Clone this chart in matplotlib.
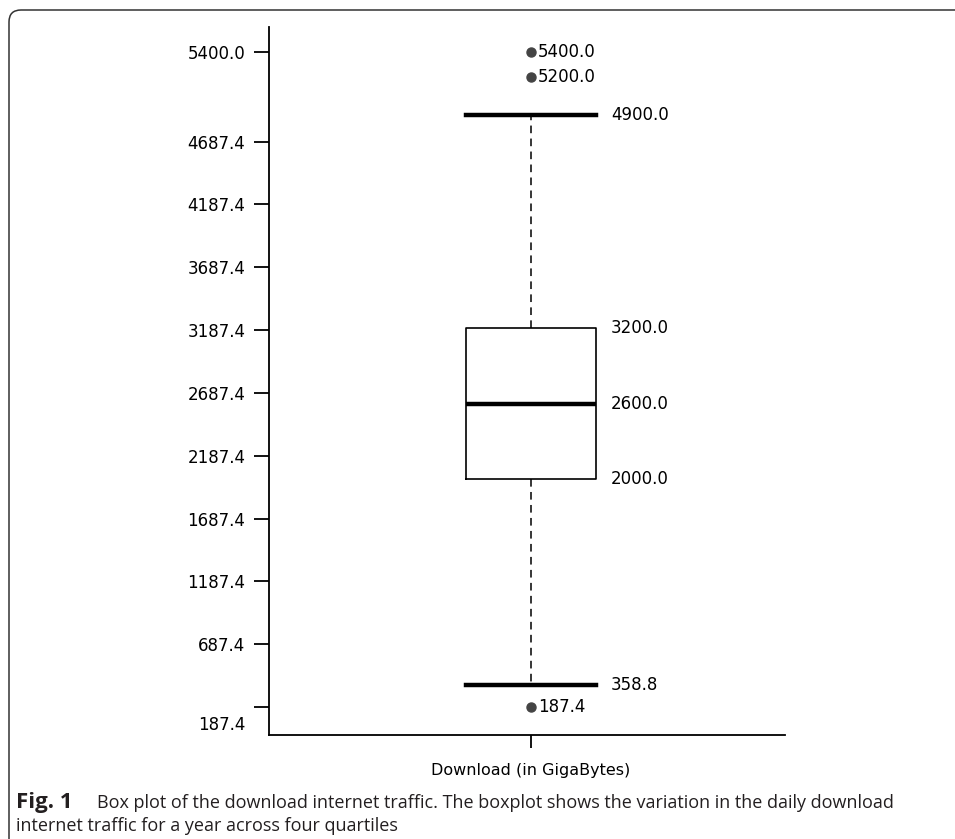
import matplotlib
matplotlib.use("Agg")
import matplotlib.pyplot as plt
from matplotlib.patches import FancyBboxPatch
from matplotlib.transforms import ScaledTranslation

# ---- data ----
category = ["Download (in GigaBytes)"]
whisker_low = 358.8
q1 = 2000.0
median = 2600.0
q3 = 3200.0
whisker_high = 4900.0
outliers = [5400.0, 5200.0, 187.4]
ytick_values = [187.4, 687.4, 1187.4, 1687.4, 2187.4, 2687.4, 3187.4,
                3687.4, 4187.4, 4687.4, 5400.0]
caption_bold = "Fig. 1"
caption_line1 = "Box plot of the download internet traffic. The boxplot shows the variation in the daily download"
caption_line2 = "internet traffic for a year across four quartiles"

W, H = 955, 839
fig = plt.figure(figsize=(W / 100, H / 100), dpi=100)
ax = fig.add_axes([269 / W, 104 / H, (785 - 269) / W, (735 - 27) / H])

stats = [dict(med=median, q1=q1, q3=q3, whislo=whisker_low, whishi=whisker_high,
              fliers=outliers, label=category[0])]
bw = 0.252
ax.bxp(stats, positions=[0], widths=bw, capwidths=bw, showfliers=True,
       boxprops=dict(color="black", linewidth=1.2),
       medianprops=dict(color="black", linewidth=3.2),
       capprops=dict(color="black", linewidth=3.2),
       whiskerprops=dict(color="black", linewidth=1.1, linestyle=(0, (5, 3.5))),
       flierprops=dict(marker="o", markersize=6.5, markerfacecolor="#444444",
                       markeredgecolor="#444444", linestyle="none"))

ax.set_xlim(-0.5078, 0.4922)
ax.set_ylim(-35.4, 5599)

# value labels
for v in [whisker_high, q3, median, q1, whisker_low]:
    ax.annotate(f"{v:.1f}", xy=(bw / 2, v), xytext=(15, 0), textcoords="offset pixels",
                ha="left", va="center", fontsize=12, family="DejaVu Sans", color="black")
for v in outliers:
    ax.annotate(f"{v:.1f}", xy=(0, v), xytext=(7, 0), textcoords="offset pixels",
                ha="left", va="center", fontsize=12, family="DejaVu Sans", color="black")

ax.set_yticks(ytick_values)
ax.set_yticklabels([f"{v:.1f}" for v in ytick_values], fontsize=12, family="DejaVu Sans")
ax.set_xticks([0])
ax.set_xticklabels(category, fontsize=11.5, family="DejaVu Sans")

for s in ["top", "right"]:
    ax.spines[s].set_visible(False)
for s in ["left", "bottom"]:
    ax.spines[s].set_linewidth(1.3)
ax.tick_params(axis="y", length=11, width=1.3, pad=6)
ax.tick_params(axis="x", length=9, width=1.3, pad=11)

# shift lowest y tick label down (as in reference)
lab = ax.get_yticklabels()[0]
lab.set_transform(lab.get_transform() + ScaledTranslation(0, -16 / 100, fig.dpi_scale_trans))

# frame
frame = FancyBboxPatch((0.09, -1.0), 20, 8.29 + 1.0,
                       boxstyle="round,pad=0,rounding_size=0.12",
                       transform=fig.dpi_scale_trans, fill=False,
                       edgecolor="#333333", linewidth=1.1, clip_on=False)
fig.add_artist(frame)

# caption
cap_color = "#231f20"
fig.text(16 / W, 31 / H, caption_bold, fontsize=16, fontweight="bold",
         family="Open Sans", color=cap_color, va="baseline", ha="left")
fig.text(97 / W, 31 / H, caption_line1, fontsize=13.0, family="Open Sans",
         color=cap_color, va="baseline", ha="left")
fig.text(16 / W, 8 / H, caption_line2, fontsize=13.0, family="Open Sans",
         color=cap_color, va="baseline", ha="left")

fig.savefig("out.png", dpi=100)
